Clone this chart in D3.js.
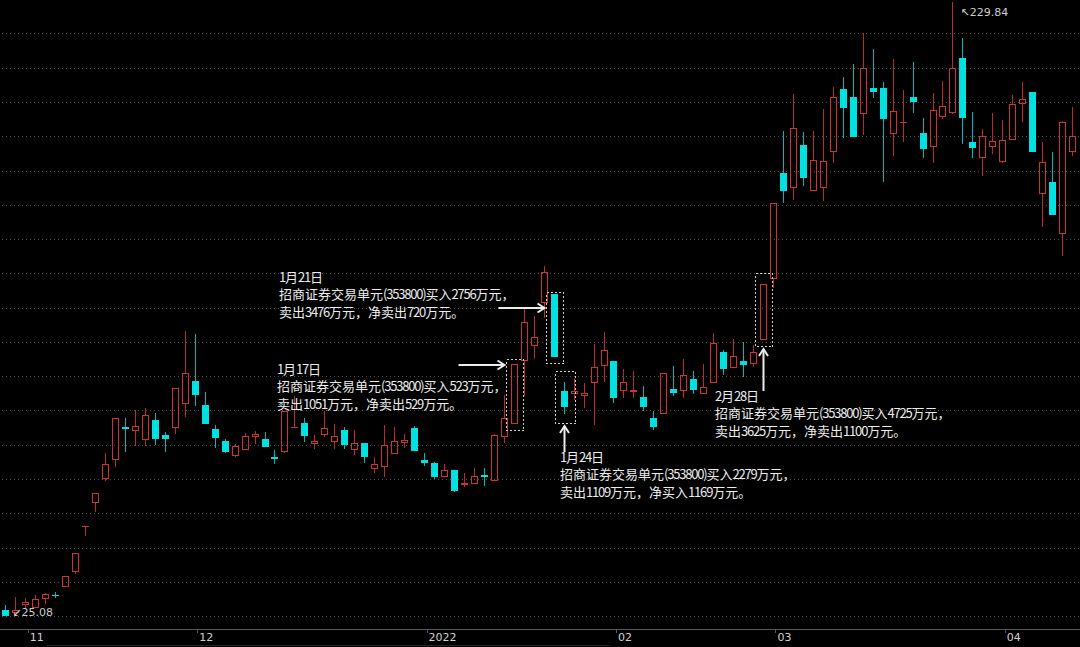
<!DOCTYPE html>
<html>
<head>
<meta charset="utf-8">
<title>K线图 - 招商证券交易单元</title>
<script src="https://d3js.org/d3.v7.min.js"></script>
<style>
body { margin: 0; background: #000; }

/* GRID */
.grid line {
  stroke: #505050;
  stroke-dasharray: 1,3;
  shape-rendering: crispEdges;
}

/* AXIS */
.axis line, .axis-base {
  stroke: #5a5a5a;
  shape-rendering: crispEdges;
}
.axis text {
  fill: #d0d0d0;
  font-family: "DejaVu Sans", sans-serif;
  font-size: 11px;
}

/* CANDLES */
.up   { stroke: #cc3333; fill: none; }
.down { fill: #00e2e2; }
.wick-up   { stroke: #b82c2c; }
.wick-down { stroke: #00b8b8; }
.candle * { shape-rendering: crispEdges; }

/* NOTES */
.note text {
  fill: #ececec;
  font-family: "Noto Sans CJK SC", sans-serif;
  font-size: 13px;
}
.note .ascii { letter-spacing: -1.2px; }
.note .box {
  fill: none;
  stroke: #cfcfcf;
  stroke-dasharray: 2,2;
  shape-rendering: crispEdges;
}
.note .arrow {
  fill: none;
  stroke: #ececec;
  stroke-width: 2;
}
.extreme {
  fill: #cccccc;
  font-family: "DejaVu Sans", sans-serif;
  font-size: 11px;
}
</style>
</head>
<body>
<div id="container"></div>
<script>

//------------------------ DATA -------------------------//

// daily OHLC, one value per trading day
const opens = [27.08,26.08,28.58,27.74,30.64,32.24,34.84,39.84,54.91,62.64,
  70.64,76.98,87.98,86.64,83.64,90.51,85.41,87.64,95.74,103.51,
  95.51,87.31,83.41,78.51,80.31,84.74,84.08,77.98,79.84,88.08,
  89.31,82.41,85.41,83.01,87.08,80.51,82.84,74.08,74.84,78.98,
  82.84,87.84,77.18,75.98,71.51,73.74,68.64,68.98,72.18,70.08,
  84.84,88.98,110.08,115.08,129.31,132.31,100.08,98.98,98.41,102.64,
  108.41,110.18,100.18,99.64,97.98,91.18,92.31,100.64,100.18,104.08,
  99.18,102.84,112.98,107.84,110.08,109.08,117.08,137.31,172.84,167.64,
  182.08,166.84,167.64,179.84,200.84,198.18,192.31,200.98,201.18,185.74,
  189.41,197.98,185.98,181.31,191.51,192.84,210.98,183.18,177.74,181.31,
  176.31,183.74,195.74,199.64,165.74,169.84,152.31,179.84];

const closes = [25.08,27.24,29.74,30.64,32.41,31.74,38.41,45.98,55.08,65.98,
  75.74,90.98,87.51,88.41,92.08,83.98,84.18,101.08,106.18,98.64,
  89.08,84.51,79.74,81.64,85.18,85.64,81.51,77.41,93.41,88.24,
  85.08,83.31,87.74,85.18,81.98,82.84,78.18,75.64,82.08,83.41,
  83.74,80.08,75.98,71.51,73.74,66.84,69.31,71.74,71.41,85.51,
  90.98,108.98,122.91,117.91,139.64,111.51,94.84,100.08,99.51,108.18,
  113.74,97.64,103.18,100.41,94.64,88.18,106.18,99.51,105.41,100.41,
  101.31,115.98,107.31,111.74,108.74,112.98,135.64,162.84,166.84,187.64,
  170.98,177.08,176.74,198.18,194.31,184.84,207.64,199.84,190.74,193.41,
  189.84,196.31,180.74,193.74,195.18,207.64,190.98,181.18,185.08,183.41,
  183.74,195.84,197.51,179.64,176.31,158.74,189.64,185.08];

const highs = [28.74,31.41,31.08,32.08,32.74,33.24,38.41,45.98,55.08,65.98,
  79.31,90.98,91.18,93.74,94.31,92.84,86.31,101.08,120.08,118.98,
  99.74,88.74,84.08,82.41,86.18,86.74,86.31,80.41,93.41,98.41,
  90.98,85.41,93.51,88.98,88.18,87.08,82.84,78.18,88.74,88.18,
  85.64,88.41,79.31,76.51,75.64,73.74,72.64,74.31,74.31,85.74,
  98.74,109.08,128.18,125.18,141.74,132.41,102.98,104.31,102.64,115.64,
  119.64,110.18,107.31,106.74,101.84,93.41,106.18,108.41,110.64,106.84,
  108.98,119.51,113.74,117.31,116.51,115.41,135.74,162.84,186.84,198.98,
  186.51,186.74,194.08,201.51,204.84,208.98,219.51,213.98,202.98,210.64,
  200.41,209.84,190.98,199.31,203.41,229.84,217.84,192.98,187.41,192.64,
  190.41,198.74,202.98,199.64,183.18,179.84,190.08,194.84];

const lows = [25.08,26.08,27.41,27.74,29.08,30.98,34.84,38.91,51.74,59.64,
  69.98,74.84,79.84,81.74,81.74,82.08,79.84,85.64,91.51,95.08,
  89.08,81.18,79.41,78.18,80.31,82.31,81.51,75.64,79.31,88.08,
  83.18,80.74,84.84,80.64,80.74,78.74,75.98,72.64,71.31,78.98,
  80.98,80.08,75.08,70.64,71.51,66.51,67.98,68.98,68.41,70.08,
  82.64,88.98,98.41,110.74,124.41,111.41,92.41,97.08,94.31,88.74,
  103.18,95.98,97.84,97.84,93.51,87.08,92.31,98.41,97.64,98.98,
  99.18,102.84,105.41,107.84,104.84,108.18,117.08,134.31,162.64,163.74,
  168.41,166.84,163.51,176.18,184.31,184.84,185.41,197.84,169.84,178.51,
  182.98,192.84,177.64,176.18,190.74,192.31,182.41,177.64,171.84,178.98,
  175.98,183.74,189.84,179.64,154.64,158.74,145.18,178.51];

// month labels on the time axis (index of first trading day)
const monthTicks  = [2, 19, 42, 61, 77, 100];
const monthLabels = ["11", "12", "2022", "02", "03", "04"];

// annotated days
const noteIdx     = [55, 51, 56, 76];
const noteDates   = ["1月21日", "1月17日", "1月24日", "2月28日"];
const noteBuy     = ["2756", "523", "2279", "4725"];
const noteSell    = ["3476", "1051", "1109", "3625"];
const noteNet     = ["净卖出720", "净卖出529", "净买入1169", "净卖出1100"];
const boxTop      = [133.18, 110.74, 106.74, 139.31];
const boxBottom   = [109.31, 87.08, 89.51, 115.08];

const lowValue = 25.08, lowIdx = 0;
const highValue = 229.84, highIdx = 95;

//------------------------ SVG -------------------------//

const width = 1080, height = 647;
const axisY = 629;

const svg = d3.select("#container")
  .append("svg")
    .attr("width", width)
    .attr("height", height)
    .style("display", "block")
    .style("background", "#000");

//------------------------ SCALES -------------------------//

const xScale = d3.scaleLinear()
  .domain([0, opens.length - 1])
  .range([5.3, 1072.1]);

const yScale = d3.scaleLinear()
  .domain([20.74, 230.41])
  .range([axisY, 0]);

//------------------------ GRID -------------------------//

const gridLevels = d3.range(18).map(k => 25.04 + 11.424 * k);

svg.append("g")
    .attr("class", "grid")
  .selectAll("line")
  .data(gridLevels)
  .join("line")
    .attr("x1", 2)
    .attr("x2", width)
    .attr("y1", d => Math.round(yScale(d)) + 0.5)
    .attr("y2", d => Math.round(yScale(d)) + 0.5);

//------------------------ AXIS -------------------------//

svg.append("line")
    .attr("class", "axis-base")
    .attr("x1", 0).attr("x2", width)
    .attr("y1", axisY + 0.5).attr("y2", axisY + 0.5);

// faint scroll strip under the axis
svg.append("line")
    .attr("x1", 47).attr("x2", 610)
    .attr("y1", 645.5).attr("y2", 645.5)
    .style("stroke", "#262626");

const xAxis = d3.axisBottom(xScale)
  .tickValues(monthTicks)
  .tickSize(4)
  .tickFormat((d, i) => monthLabels[i]);

const axisG = svg.append("g")
    .attr("class", "axis")
    .attr("transform", "translate(2," + axisY + ")")
    .call(xAxis);
axisG.select(".domain").remove();
axisG.selectAll(".tick line")
    .attr("transform", "translate(0.5,0)");
axisG.selectAll(".tick text")
    .attr("text-anchor", "start")
    .attr("x", 2)
    .attr("y", 4)
    .attr("fill", "#d0d0d0");

//------------------------ CANDLES -------------------------//

const candles = opens.map((o, i) => ({
  i: i, open: o, close: closes[i], high: highs[i], low: lows[i]
}));

const cg = svg.append("g").attr("class", "candle")
  .selectAll("g")
  .data(candles)
  .join("g");

cg.each(function(d) {
  const g = d3.select(this);
  const cx = Math.round(xScale(d.i));
  const up = d.close >= d.open;
  const yTop = Math.round(yScale(Math.max(d.open, d.close)));
  const yBot = Math.round(yScale(Math.min(d.open, d.close)));
  const yHi = Math.round(yScale(d.high));
  const yLo = Math.round(yScale(d.low));

  if (up) {
    if (yHi < yTop) g.append("line").attr("class", "wick-up")
      .attr("x1", cx + 0.5).attr("x2", cx + 0.5).attr("y1", yHi).attr("y2", yTop);
    if (yLo > yBot) g.append("line").attr("class", "wick-up")
      .attr("x1", cx + 0.5).attr("x2", cx + 0.5).attr("y1", yBot).attr("y2", yLo);
    if (yBot - yTop <= 2) {
      g.append("rect").style("fill", "#cc3333")
        .attr("x", cx - 3).attr("width", 7)
        .attr("y", yTop).attr("height", Math.max(1, yBot - yTop));
    } else {
      g.append("rect").attr("class", "up")
        .attr("x", cx - 2.5).attr("width", 6)
        .attr("y", yTop + 0.5).attr("height", yBot - yTop - 1);
    }
  } else {
    g.append("line").attr("class", "wick-down")
      .attr("x1", cx + 0.5).attr("x2", cx + 0.5).attr("y1", yHi).attr("y2", yLo);
    g.append("rect").attr("class", "down")
      .attr("x", cx - 3).attr("width", 7)
      .attr("y", yTop).attr("height", Math.max(1, yBot - yTop));
  }
});

//------------------------ HIGH / LOW MARKS -------------------------//

svg.append("text")
    .attr("class", "extreme")
    .attr("x", xScale(lowIdx) + 7)
    .attr("y", yScale(lowValue) - 4)
    .attr("dy", "0.35em")
    .text("↙" + lowValue.toFixed(2));

svg.append("text")
    .attr("class", "extreme")
    .attr("x", xScale(highIdx) + 8)
    .attr("y", yScale(highValue) + 10)
    .attr("dy", "0.35em")
    .text("↖" + highValue.toFixed(2));

//------------------------ NOTES -------------------------//

// text anchor + arrow style for each note
const noteLayout = [
  {tx: 279, ty: 277, arrow: "h", tail: 46, ay: 127.74, half: 8.7},
  {tx: 277, ty: 369, arrow: "h", tail: 46, ay: 108.74, half: 8.4},
  {tx: 560, ty: 457, arrow: "v", tail: 26, half: 10},
  {tx: 715, ty: 396, arrow: "v", tail: 42, half: 8.7}
];

const notes = svg.append("g").attr("class", "note");

noteIdx.forEach(function(idx, k) {
  const L = noteLayout[k];
  const cx = Math.round(xScale(idx)) + 0.5;
  const bx0 = Math.round(cx - L.half) + 0.5;
  const bx1 = Math.round(cx + L.half) + 0.5;
  const by0 = Math.round(yScale(boxTop[k])) + 0.5;
  const by1 = Math.round(yScale(boxBottom[k])) + 0.5;

  notes.append("rect")
      .attr("class", "box")
      .attr("x", bx0).attr("y", by0)
      .attr("width", bx1 - bx0).attr("height", by1 - by0);

  if (L.arrow === "h") {
    const y = Math.round(yScale(L.ay));
    const x1 = bx0 - 2, x0 = x1 - L.tail;
    notes.append("path").attr("class", "arrow")
      .attr("d", "M" + x0 + "," + y + "H" + x1);
    notes.append("path").attr("class", "arrow")
      .attr("d", "M" + (x1 - 7) + "," + (y - 4.5) + "L" + x1 + "," + y + "L" + (x1 - 7) + "," + (y + 4.5));
  } else {
    const y1 = by1 + 2.5, y0 = y1 + L.tail;
    notes.append("path").attr("class", "arrow")
      .attr("d", "M" + cx + "," + y0 + "V" + y1);
    notes.append("path").attr("class", "arrow")
      .attr("d", "M" + (cx - 4.5) + "," + (y1 + 7) + "L" + cx + "," + y1 + "L" + (cx + 4.5) + "," + (y1 + 7));
  }

  const lines = [
    noteDates[k],
    "招商证券交易单元(353800)买入" + noteBuy[k] + "万元，",
    "卖出" + noteSell[k] + "万元，" + noteNet[k] + "万元。"
  ];
  const text = notes.append("text");
  lines.forEach(function(line, j) {
    // split into runs so the latin digits can be set a little tighter
    const runs = line.split(/([\x00-\x7F]+)/).filter(s => s.length);
    runs.forEach(function(run, r) {
      const t = text.append("tspan")
          .attr("class", /^[\x00-\x7F]+$/.test(run) ? "ascii" : null)
          .text(run);
      if (r === 0) {
        t.attr("x", L.tx)
         .attr("y", L.ty + j * 17.5)
         .attr("dy", "0.35em");
      }
    });
  });
});

</script>
</body>
</html>
